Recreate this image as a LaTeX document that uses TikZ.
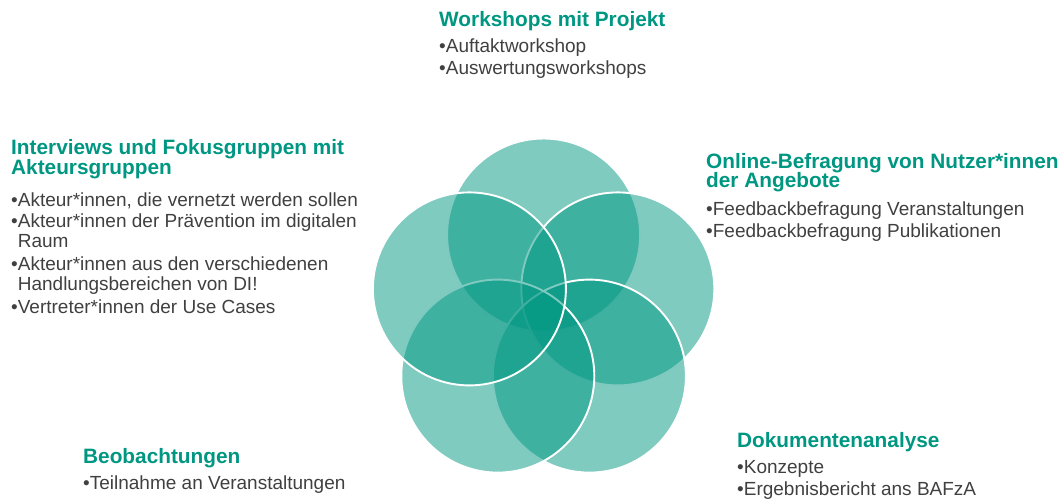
\documentclass[tikz,border=0pt]{standalone}
\usepackage{fontspec}
\setmainfont{Liberation Sans}
\definecolor{vteal}{RGB}{0,151,130}
\definecolor{vgrey}{RGB}{64,64,64}
\begin{document}
\begin{tikzpicture}[x=1pt,y=-1pt]
\useasboundingbox (0,0) rectangle (1063,500);
\tikzset{
  circ/.style={fill=vteal, fill opacity=0.5, draw=white, draw opacity=1, line width=1.9pt},
  ttl/.style={anchor=base west, inner sep=0pt, font=\fontsize{20.8}{22}\selectfont\bfseries, text=vteal},
  itm/.style={anchor=base west, inner sep=0pt, font=\fontsize{19}{21}\selectfont, text=vgrey}
}
% circles, drawn in order: top, upper right, lower right, lower left, upper left
\draw[circ] (543.6,235.0) circle[radius=96.5pt];
\draw[circ] (617.8,288.9) circle[radius=96.5pt];
\draw[circ] (589.4,376.1) circle[radius=96.5pt];
\draw[circ] (497.8,376.1) circle[radius=96.5pt];
\draw[circ] (469.4,288.9) circle[radius=96.5pt];
% top
\node[ttl] (wt) at (439,27) {Workshops mit Projekt};
\node[itm] (w1) at (439,53) {•Auftaktworkshop};
\node[itm] (w2) at (439,75) {•Auswertungsworkshops};
% left
\node[ttl] (it1) at (11,155) {Interviews und Fokusgruppen mit};
\node[ttl] (it2) at (11,175) {Akteursgruppen};
\node[itm] (i1) at (11,206) {•Akteur*innen, die vernetzt werden sollen};
\node[itm] (i2) at (11,227) {•Akteur*innen der Prävention im digitalen};
\node[itm] (i2b) at (11,247) {\phantom{•}Raum};
\node[itm] (i3) at (11,270) {•Akteur*innen aus den verschiedenen};
\node[itm] (i3b) at (11,290) {\phantom{•}Handlungsbereichen von DI!};
\node[itm] (i4) at (11,313) {•Vertreter*innen der Use Cases};
% right
\node[ttl] (ot1) at (706,168) {Online-Befragung von Nutzer*innen};
\node[ttl] (ot2) at (706,187) {der Angebote};
\node[itm] (o1) at (706,215) {•Feedbackbefragung Veranstaltungen};
\node[itm] (o2) at (706,237) {•Feedbackbefragung Publikationen};
% bottom left
\node[ttl] (bt) at (83,463) {Beobachtungen};
\node[itm] (b1) at (83,489) {•Teilnahme an Veranstaltungen};
% bottom right
\node[ttl] (dt) at (737,447) {Dokumentenanalyse};
\node[itm] (d1) at (737,473) {•Konzepte};
\node[itm] (d2) at (737,495) {•Ergebnisbericht ans BAFzA};
\end{tikzpicture}
\end{document}
